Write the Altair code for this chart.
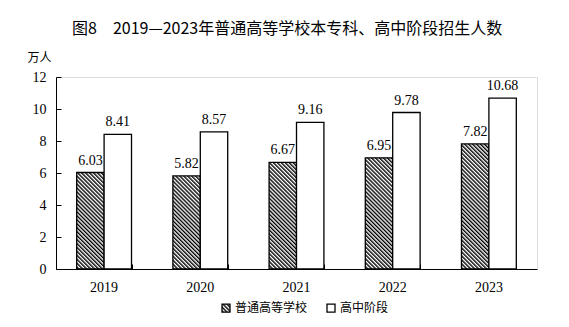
import jinja2
import altair as alt
import pandas as pd

years = ["2019", "2020", "2021", "2022", "2023"]
series_names = ["普通高等学校", "高中阶段"]
higher_edu = [6.03, 5.82, 6.67, 6.95, 7.82]
senior_high = [8.41, 8.57, 9.16, 9.78, 10.68]
y_ticks = [0, 2, 4, 6, 8, 10, 12]
title_text = "图8　2019—2023年普通高等学校本专科、高中阶段招生人数"
unit_text = "万人"

rows = []
for i, yr in enumerate(years):
    rows.append({"year": yr, "series": series_names[0], "value": higher_edu[i]})
    rows.append({"year": yr, "series": series_names[1], "value": senior_high[i]})
df = pd.DataFrame(rows)

W, H = 481, 192
SERIF = "Liberation Serif"
CJK = "Noto Sans CJK SC"

xscale = alt.Scale(domain=years, paddingInner=0.43, paddingOuter=0.215)
yscale = alt.Scale(domain=[0, 12], nice=False)
off_scale = alt.Scale(domain=series_names, paddingInner=0, paddingOuter=0)
xoff = alt.XOffset("series:N", scale=off_scale, sort=series_names)

base = alt.Chart(df)

bars = base.mark_bar(stroke="black", strokeWidth=1.3).encode(
    x=alt.X("year:N", scale=xscale, axis=alt.Axis(
        orient="bottom", title=None, ticks=False, tickSize=0, labelFont=SERIF,
        labelFontSize=14, labelColor="black", labelPadding=11, labelAngle=0,
        domainColor="black", domainWidth=1, grid=False)),
    xOffset=xoff,
    y=alt.Y("value:Q", scale=yscale, axis=alt.Axis(
        orient="left", values=y_ticks, title=unit_text, titleAngle=0, titleX=-29,
        titleY=-20, titleAlign="left", titleBaseline="middle", titleFont=CJK,
        titleFontSize=12, titleFontWeight="normal", titleColor="black",
        ticks=False, tickSize=0, labelFont=SERIF, labelFontSize=14,
        labelColor="black", labelPadding=10, domainColor="black", grid=False)),
    fill=alt.Fill("series:N", scale=alt.Scale(domain=series_names, range=["url(#hatch)", "white"]),
                  legend=alt.Legend(title=None, orient="none", legendX=164, legendY=225,
                                    direction="horizontal", symbolType="square", symbolSize=64,
                                    symbolStrokeColor="black", symbolStrokeWidth=1.3,
                                    labelFont=CJK, labelFontSize=12, labelColor="black",
                                    labelOffset=3, columnPadding=16)),
)

labels = base.mark_text(font=SERIF, fontSize=14, color="black", baseline="alphabetic", dy=-8).encode(
    x=alt.X("year:N", scale=xscale, axis=None),
    xOffset=xoff,
    y=alt.Y("value:Q", scale=yscale, axis=None),
    text=alt.Text("value:Q", format=".2f"),
)

tick_layer = base.mark_bar(opacity=0).encode(
    x=alt.X("year:N", scale=xscale, axis=alt.Axis(
        orient="top", offset=-H, labels=False, domain=False, ticks=True, tickBand="extent",
        tickSize=5, tickColor="black", tickWidth=1, title=None, grid=False)),
    xOffset=xoff,
    y=alt.Y("value:Q", scale=yscale, axis=alt.Axis(
        orient="right", offset=-W, values=y_ticks, labels=False, domain=False, ticks=True,
        tickSize=5, tickColor="black", tickWidth=1, title=None, grid=False)),
)

chart = alt.layer(bars, labels, tick_layer).resolve_axis(
    x="independent", y="independent"
).properties(
    width=W, height=H,
    title=alt.Title(text=title_text, anchor="start", frame="group", dx=16, offset=14,
                    font=CJK, fontSize=16, fontWeight="normal", color="black"),
    padding={"left": 56, "top": 77, "right": 32, "bottom": 58},
    autosize=alt.AutoSizeParams(type="none"),
).configure_view(stroke=None).configure(background="white")

EMBED = {"renderer": "svg", "actions": False}
PATTERN = ('<svg width="0" height="0" style="position:absolute;left:0;top:0" aria-hidden="true">'
           '<defs><pattern id="hatch" patternUnits="userSpaceOnUse" width="2.8" height="2.8" '
           'patternTransform="rotate(-45)"><rect width="2.8" height="2.8" fill="white"/>'
           '<rect width="1.4" height="2.8" fill="black"/></pattern></defs></svg>')

try:
    html = chart.to_html(embed_options=EMBED)
    if "<body>" in html:
        html = html.replace("<body>", "<body>\n" + PATTERN, 1)
    else:
        html = html.replace("</head>", "</head>\n" + PATTERN, 1)
    tpl = jinja2.Template("{% raw %}" + html + "{% endraw %}")
    chart.save("out.html", embed_options=EMBED, template=tpl)
except TypeError:
    chart.save("out.html", embed_options=EMBED)
